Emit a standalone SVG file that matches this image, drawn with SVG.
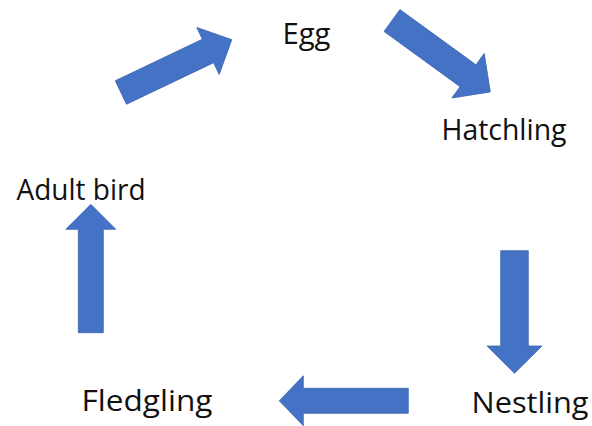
<svg xmlns="http://www.w3.org/2000/svg" width="592" height="426" viewBox="0 0 592 426">
  <style>
    .lbl { font-family: "Open Sans", "Noto Sans", "Liberation Sans", sans-serif; font-size: 30px; fill: #111111; }
    .arr { fill: #4472C4; stroke: #3d67b3; stroke-width: 0.8; stroke-linejoin: miter; }
  </style>
  <rect width="592" height="426" fill="#ffffff"/>
  <g id="connectors">
    <!-- Adult bird -> Egg -->
    <polygon class="arr" transform="translate(120.9,92.5) rotate(-25.5)" points="0,-13 96.5,-13 96.5,-26 122.8,0 96.5,26 96.5,13 0,13"/>
    <!-- Egg -> Hatchling -->
    <polygon class="arr" transform="translate(392,20.5) rotate(36)" points="0,-13.5 94,-13.5 94,-27.5 121.5,0 94,27.5 94,13.5 0,13.5"/>
    <!-- Hatchling -> Nestling -->
    <polygon class="arr" transform="translate(514.5,250.7) rotate(90)" points="0,-13.8 95.3,-13.8 95.3,-27.5 122.6,0 95.3,27.5 95.3,13.8 0,13.8"/>
    <!-- Nestling -> Fledgling -->
    <polygon class="arr" transform="translate(408.3,400.8) rotate(180)" points="0,-12.5 105,-12.5 105,-25 129,0 105,25 105,12.5 0,12.5"/>
    <!-- Fledgling -> Adult bird -->
    <polygon class="arr" transform="translate(90.8,332.7) rotate(-90)" points="0,-12.5 103.4,-12.5 103.4,-25 128.4,0 103.4,25 103.4,12.5 0,12.5"/>
  </g>
  <g id="egg"><text class="lbl" x="282.5" y="43.5" textLength="48" lengthAdjust="spacingAndGlyphs">Egg</text></g>
  <g id="hatchling"><text class="lbl" x="441.5" y="140" textLength="125" lengthAdjust="spacingAndGlyphs">Hatchling</text></g>
  <g id="nestling"><text class="lbl" x="471.5" y="413.3" textLength="117" lengthAdjust="spacingAndGlyphs">Nestling</text></g>
  <g id="fledgling"><text class="lbl" x="81.5" y="410.7" textLength="131" lengthAdjust="spacingAndGlyphs">Fledgling</text></g>
  <g id="adult-bird"><text class="lbl" x="16.5" y="200" textLength="129" lengthAdjust="spacingAndGlyphs">Adult bird</text></g>
</svg>
